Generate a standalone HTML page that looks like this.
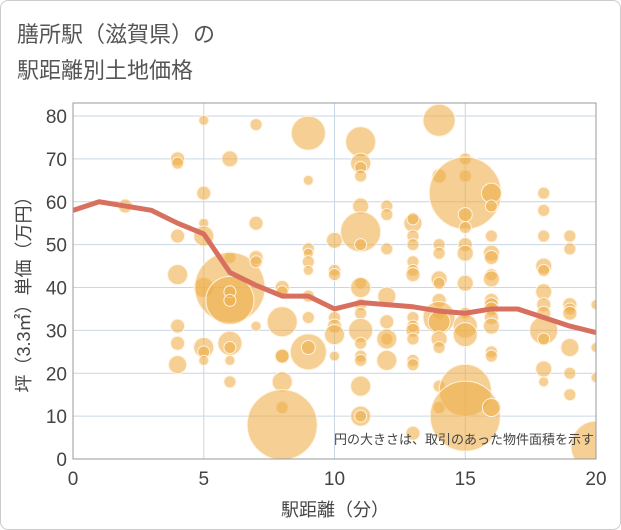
<!DOCTYPE html>
<html><head><meta charset="utf-8"><style>
body{margin:0;background:#fff;}
#wrap{position:relative;width:619px;height:528px;border:1px solid #ccc;border-radius:8px;overflow:hidden;}
.t{position:absolute;left:16px;font-family:"Liberation Sans","Noto Sans CJK JP",sans-serif;font-size:22px;color:#555;}
</style></head><body>
<div id="wrap">
<div class="t" style="top:16px">膳所駅（滋賀県）の</div>
<div class="t" style="top:52px">駅距離別土地価格</div>
<svg id="svg" width="621" height="530" style="position:absolute;left:-1px;top:-1px"></svg>
</div>
<script>
const xTicks=[0,5,10,15,20];
const yTicks=[0,10,20,30,40,50,60,70,80];
const lineX=[0,1,2,3,4,5,6,7,8,9,10,11,12,13,14,15,16,17,18,19,20];
const lineY=[58,60,59,58,55,52.5,43.5,40.5,38,38,35,36.5,36,35.5,34.5,34,35,35,33,31,29.5];
const bubX=[
2,
4,4,4,4,4,4,4,
5,5,5,5,5,5,5,5,
6,6,6,6,6,6,6,6,6,6,
7,7,7,7,7,
8,8,8,8,8,8,8,8,
9,9,9,9,9,9,9,9,9,9,
10,10,10,10,10,10,10,
11,11,11,11,11,11,11,11,11,11,11,11,11,11,11,11,11,11,
12,12,12,12,12,12,12,12,
13,13,13,13,13,13,13,13,13,13,13,13,13,13,
14,14,14,14,14,14,14,14,14,14,14,14,14,14,
15,15,15,15,15,15,15,15,15,15,15,15,15,
16,16,16,16,16,16,16,16,16,16,16,16,16,16,16,
18,18,18,18,18,18,18,18,18,18,18,18,
19,19,19,19,19,19,19,19,
20,20,20,20];
const bubY=[
59,
70,69,52,43,31,27,22,
79,62,55,52,40,26,25,23,
70,47,40,37,39,37,27,26,23,18,
78,55,47,46,31,
40,39,32,24,24,18,12,8,
76,65,49,48,46,44,38,33,25,26,
51,44,43,33,31,29,24,
74,69,68,66,59,53,50,41,40,36,34,30,27,24,23,17,10,10,
59,57,49,38,32,28,28,23,
55,56,52,50,46,44,43,33,31,30,28,23,22,6,
79,66,50,48,42,41,37,34,33,32,28,26,17,12,
70,66,62,57,54,50,48,41,34,31,29,16,10,
52,48,47,43,42,37,36,35,33,31,25,24,12,62,59,
62,58,52,45,44,39,36,34,30,28,21,18,
52,49,36,35,34,26,20,15,
36,26,19,3];
const bubR=[
7,
7,6,7,10,7,7,9,
5,7,5,10,10,10,6,5,
8,6,35,24,6,6,12,6,5,6,
6,7,7,6,5,
7,6,15,7,7,10,6,35,
17,5,6,5,6,5,6,6,18,7,
8,6,6,6,7,10,5,
15,10,6,6,8,20,6,6,10,6,6,12,6,6,6,10,10,6,
6,6,6,9,7,6,10,10,
9,6,6,6,6,6,7,6,6,7,6,6,6,7,
16,7,6,6,8,6,7,6,16,11,8,6,6,6,
6,6,36,7,6,7,8,8,6,12,12,26,35,
6,8,7,6,8,7,7,7,7,8,6,6,9,10,6,
6,6,6,8,6,8,7,7,14,6,8,5,
6,6,7,6,7,9,6,6,
5,5,5,25];
const svg=document.getElementById('svg');
const NS='http://www.w3.org/2000/svg';
const L=73,R=596,T=103,B=459;
const sx=v=>L+(R-L)*v/20, sy=v=>B-(B-116)*v/80;
function mk(tag,attrs,name){const e=document.createElementNS(NS,tag);for(const k in attrs)e.setAttribute(k,attrs[k]);


svg.appendChild(e);return e;}
yTicks.forEach(v=>{mk('line',{x1:L,x2:R,y1:sy(v),y2:sy(v),stroke:'#c9d6e3','stroke-width':1},'y-gridline');
const t=mk('text',{x:L-6,y:sy(v)+7,'text-anchor':'end','font-size':19,fill:'#444','font-family':'Liberation Sans, sans-serif'},'y-tick-label');t.textContent=v;});
xTicks.forEach(v=>{mk('line',{x1:sx(v),x2:sx(v),y1:T,y2:B,stroke:'#c9d6e3','stroke-width':1},'x-gridline');
const t=mk('text',{x:sx(v),y:B+26,'text-anchor':'middle','font-size':19,fill:'#444','font-family':'Liberation Sans, sans-serif'},'x-tick-label');t.textContent=v;});
const cp=mk('clipPath',{id:'cp'},'plot-clip');const cr=document.createElementNS(NS,'rect');
cr.setAttribute('x',L);cr.setAttribute('y',T);cr.setAttribute('width',R-L);cr.setAttribute('height',B-T);cp.appendChild(cr);
const g=mk('g',{'clip-path':'url(#cp)'},'bubbles');
for(let i=0;i<bubX.length;i++){const c=document.createElementNS(NS,'circle');
c.setAttribute('cx',sx(bubX[i]));c.setAttribute('cy',sy(bubY[i]));c.setAttribute('r',bubR[i]);
c.setAttribute('fill','rgba(238,175,75,0.6)');c.setAttribute('stroke','#fff3e0');c.setAttribute('stroke-width',1);


g.appendChild(c);}
mk('polyline',{points:lineX.map((x,i)=>sx(x)+','+sy(lineY[i])).join(' '),fill:'none',stroke:'#d87060','stroke-width':5,'stroke-linejoin':'round','clip-path':'url(#cp)'},'average-line');
mk('rect',{x:L,y:T,width:R-L,height:B-T,fill:'none',stroke:'#999','stroke-width':1},'plot-frame');
let n=mk('text',{x:594,y:444,'text-anchor':'end','font-size':13,fill:'#444','font-family':'Liberation Sans, Noto Sans CJK JP, sans-serif'},'size-note');n.textContent='円の大きさは、取引のあった物件面積を示す';
n=mk('text',{x:335,y:516,'text-anchor':'middle','font-size':18,fill:'#444','font-family':'Liberation Sans, Noto Sans CJK JP, sans-serif'},'x-axis-title');n.textContent='駅距離（分）';
n=mk('text',{x:30,y:290,'text-anchor':'middle','font-size':18,fill:'#444',transform:'rotate(-90 30 290)','font-family':'Liberation Sans, Noto Sans CJK JP, sans-serif'},'y-axis-title');n.textContent='坪（3.3㎡）単価（万円）';
</script>
</body></html>
